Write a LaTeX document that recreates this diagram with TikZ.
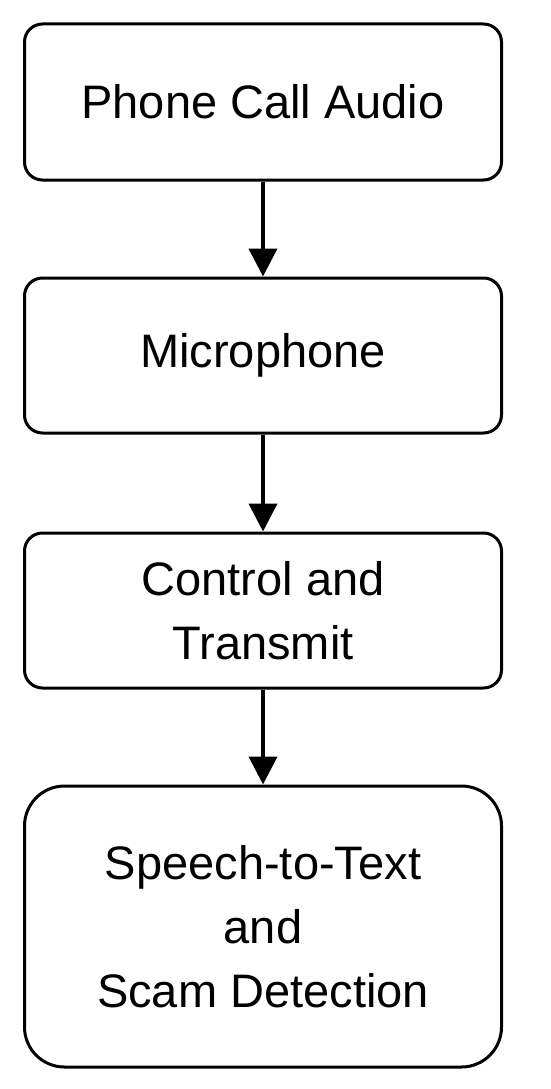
\documentclass[tikz,border=0pt]{standalone}
\usepackage{fontspec}
\setmainfont{Liberation Sans}
\usepackage{tikz}
\usetikzlibrary{arrows.meta}

\begin{document}
\begin{tikzpicture}[x=1pt, y=1pt, >={Triangle[length=28pt, width=28pt]},
  stage/.style={draw, line width=3pt, rounded corners=18pt, minimum width=477pt, align=center, inner sep=0pt, font=\fontsize{47}{64}\selectfont},
  flow/.style={->, line width=4pt}]
\useasboundingbox (0,0) rectangle (550,-1089);
\node[stage, minimum height=156pt] (n0) at (263,-102) {Phone Call Audio};
\node[stage, minimum height=155pt] (n1) at (263,-355.5) {Microphone};
\node[stage, minimum height=155pt] (n2) at (263,-610.5) {Control and\\Transmit};
\node[stage, minimum height=281pt, rounded corners=40pt] (n3) at (263,-926.5) {Speech-to-Text\\and\\Scam Detection};
\draw[flow] (n0) -- (n1);
\draw[flow] (n1) -- (n2);
\draw[flow] (n2) -- (n3);
\end{tikzpicture}
\end{document}
